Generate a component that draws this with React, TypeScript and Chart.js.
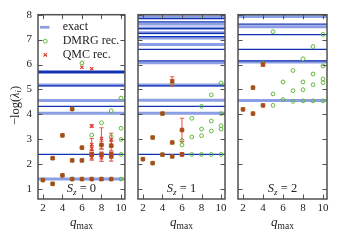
import React, { useEffect, useRef } from 'react';
import { Chart, registerables } from 'chart.js';

Chart.register(...registerables);

const SERIF = '"Liberation Serif", "DejaVu Serif", serif';

// axes
const qTicks = [2, 4, 6, 8, 10];
const yTicks = [1, 2, 3, 4, 5, 6, 7, 8];
const qRange = [1.5, 10.4];
const yRange = [0.6, 8];

// ---- S_z = 0 ----
const exactDark0 = [2.39, 4.32, 5.14, 5.67, 5.73];
const exactLight0 = [1.4, 4.04, 4.55, 5.18];
const dmrg0 = [
  [2, 1.36], [3, 1.21], [3, 2.24], [4, 1.55], [4, 3.155], [5, 1.4], [5, 2.15], [5, 4.21],
  [6, 1.4], [6, 2.15], [6, 2.66], [6, 6.06], [7, 1.4], [7, 2.39], [7, 3.17],
  [8, 1.4], [8, 2.39], [8, 2.77], [8, 3.66], [9, 1.4], [9, 2.39], [9, 2.74], [9, 3.1], [9, 4.14],
  [10, 1.4], [10, 2.39], [10, 2.99], [10, 3.44], [10, 4.65],
];
// q, value, error
const qmc0 = [
  [2, 1.36, 0], [3, 1.21, 0], [3, 2.24, 0], [4, 1.55, 0], [4, 3.155, 0],
  [5, 1.4, 0], [5, 2.15, 0], [5, 4.21, 0], [6, 1.4, 0], [6, 2.15, 0], [6, 2.66, 0], [6, 5.89, 0],
  [7, 1.4, 0], [7, 2.26, 0.1], [7, 2.39, 0.08], [7, 2.63, 0.1], [7, 2.79, 0.24], [7, 3.53, 0.05], [7, 5.83, 0],
  [8, 1.4, 0], [8, 2.26, 0.15], [8, 2.39, 0.1], [8, 2.77, 0.15], [8, 3.03, 0.43],
  [9, 1.4, 0], [9, 2.3, 0.18], [9, 2.39, 0.1], [9, 2.74, 0.2], [9, 2.97, 0.27],
];

// ---- S_z = 1 ----
const exactDark1 = [2.39, 4.32, 5.14, 6.15, 6.61, 7.12, 7.25, 7.44, 7.71, 7.84];
const exactLight1 = [4.04, 4.56, 5.18, 6.07, 6.8, 7.06, 7.28, 7.47, 7.63, 7.92];
const dmrg1 = [
  [2, 2.2], [3, 2.04], [3, 3.07], [4, 2.38], [4, 4.03], [5, 2.31], [5, 2.87], [5, 5.24],
  [6, 2.39], [6, 2.77], [6, 2.95], [6, 3.37], [7, 2.39], [7, 3.09], [7, 3.84],
  [8, 2.39], [8, 3.14], [8, 3.41], [8, 4.32], [9, 2.39], [9, 3.33], [9, 3.73], [9, 4.78],
  [10, 2.39], [10, 3.41], [10, 3.54], [10, 4.03], [10, 5.26],
];
const qmc1 = [
  [2, 2.2, 0], [3, 2.04, 0], [3, 3.07, 0], [4, 2.38, 0], [4, 4.03, 0],
  [5, 2.31, 0], [5, 2.87, 0], [5, 5.33, 0.18], [6, 2.39, 0.07], [6, 3.37, 0.47],
];

// ---- S_z = 2 ----
const exactDark2 = [6.15, 6.61, 7.2, 7.62];
const exactLight2 = [4.55, 6.1, 7.52, 7.93];
const dmrg2 = [
  [2, 4.2], [3, 4.03], [3, 5.07], [4, 4.36], [4, 6.04], [5, 4.36], [5, 4.82], [5, 7.32],
  [6, 4.59], [6, 5.3], [7, 4.52], [7, 4.95], [7, 5.76], [8, 4.54], [8, 4.99], [8, 5.3], [8, 6.23],
  [9, 4.54], [9, 5.19], [9, 5.62], [9, 6.72], [10, 4.54], [10, 5.27], [10, 5.42], [10, 5.94], [10, 7.21],
];
const qmc2 = [[2, 4.2, 0], [3, 4.03, 0], [3, 5.07, 0], [4, 4.36, 0], [4, 6.0, 0.07]];

const panels = [
  { sz: '0', exactDark: exactDark0, exactLight: exactLight0, dmrg: dmrg0, qmc: qmc0 },
  { sz: '1', exactDark: exactDark1, exactLight: exactLight1, dmrg: dmrg1, qmc: qmc1 },
  { sz: '2', exactDark: exactDark2, exactLight: exactLight2, dmrg: dmrg2, qmc: qmc2 },
];

const DARK = '#1232b4';
const LIGHT = '#8d9fe4';
const GREEN = '#63b83a';
const RED = '#d8392b';
const BROWN = '#ac4a1c';
const FRAME = '#505050';
const TEXT = '#222';

function levelData(levels: number[]) {
  const out: any[] = [];
  levels.forEach((v) => {
    out.push({ x: qRange[0], y: v }, { x: qRange[1], y: v }, { x: qRange[1], y: null });
  });
  return out;
}

function drawRich(ctx: CanvasRenderingContext2D, parts: any[], cx: number, cy: number) {
  let total = 0;
  parts.forEach((p) => { ctx.font = p.font; total += ctx.measureText(p.t).width; });
  let x = cx - total / 2;
  parts.forEach((p) => {
    ctx.font = p.font;
    ctx.fillText(p.t, x, cy + (p.dy || 0));
    x += ctx.measureText(p.t).width;
  });
}

function PanelChart({ panel, first, left, width, padL, padR }: any) {
  const ref = useRef<HTMLCanvasElement>(null);
  useEffect(() => {
    const coincide = panel.qmc.map(([q, v]: number[]) =>
      panel.dmrg.some(([dq, dv]: number[]) => dq === q && Math.abs(dv - v) < 0.1));

    const decor = {
      id: 'decor',
      beforeDatasetDraw(chart: any, args: any) {
        const ds = chart.data.datasets[args.index];
        if (ds.label !== 'QMC rec.') return;
        const { ctx, scales: { x, y } } = chart;
        ctx.save();
        ctx.strokeStyle = 'rgba(222,70,52,0.85)';
        ctx.lineWidth = 1.1;
        panel.qmc.forEach(([q, v, e]: number[]) => {
          if (!e) return;
          const px = x.getPixelForValue(q);
          const y1 = y.getPixelForValue(v - e);
          const y2 = y.getPixelForValue(v + e);
          ctx.beginPath();
          ctx.moveTo(px, y1); ctx.lineTo(px, y2);
          ctx.moveTo(px - 2.2, y1); ctx.lineTo(px + 2.2, y1);
          ctx.moveTo(px - 2.2, y2); ctx.lineTo(px + 2.2, y2);
          ctx.stroke();
        });
        ctx.restore();
      },
      afterDraw(chart: any) {
        const { ctx, chartArea: a, scales: { x, y } } = chart;
        ctx.save();
        ctx.strokeStyle = FRAME;
        ctx.lineWidth = 1;
        ctx.beginPath();
        qTicks.forEach((v) => {
          const px = Math.round(x.getPixelForValue(v)) + 0.5;
          ctx.moveTo(px, a.bottom); ctx.lineTo(px, a.bottom - 4.5);
          ctx.moveTo(px, a.top); ctx.lineTo(px, a.top + 4.5);
        });
        yTicks.forEach((v) => {
          const py = Math.round(y.getPixelForValue(v)) + 0.5;
          ctx.moveTo(a.left, py); ctx.lineTo(a.left + 4.5, py);
          ctx.moveTo(a.right, py); ctx.lineTo(a.right - 4.5, py);
        });
        ctx.stroke();
        ctx.lineWidth = 1.5;
        ctx.strokeRect(a.left, a.top, a.right - a.left, a.bottom - a.top);

        ctx.fillStyle = TEXT;
        ctx.textAlign = 'left';
        ctx.textBaseline = 'alphabetic';
        const cx = (a.left + a.right) / 2;
        // S_z label
        drawRich(ctx, [
          { t: 'S', font: `italic 12.5px ${SERIF}` },
          { t: 'z', font: `italic 9px ${SERIF}`, dy: 2.5 },
          { t: ' = ' + panel.sz, font: `12.5px ${SERIF}` },
        ], cx, 192);
        // x title
        drawRich(ctx, [
          { t: 'q', font: `italic 13px ${SERIF}` },
          { t: 'max', font: `9.5px ${SERIF}`, dy: 2.5 },
        ], cx, 226);

        if (first) {
          // y title
          ctx.save();
          ctx.translate(18.5, 105.5);
          ctx.rotate(-Math.PI / 2);
          drawRich(ctx, [
            { t: '\u2212log(', font: `12.5px ${SERIF}` },
            { t: '\u03bb', font: `italic 12.5px ${SERIF}` },
            { t: 'i', font: `italic 8.5px ${SERIF}`, dy: 2.5 },
            { t: ')', font: `12.5px ${SERIF}` },
          ], 0, 0);
          ctx.restore();

          // legend
          const lx = 45.3;
          const tx = 62.7;
          const rows = [27.3, 41.2, 54.8];
          ctx.strokeStyle = LIGHT;
          ctx.lineWidth = 2.8;
          ctx.beginPath(); ctx.moveTo(40, rows[0]); ctx.lineTo(49.5, rows[0]); ctx.stroke();
          ctx.strokeStyle = GREEN;
          ctx.lineWidth = 1;
          ctx.beginPath(); ctx.arc(lx, rows[1], 1.9, 0, Math.PI * 2); ctx.stroke();
          ctx.strokeStyle = RED;
          ctx.lineWidth = 1.1;
          ctx.beginPath();
          ctx.moveTo(lx - 1.7, rows[2] - 1.7); ctx.lineTo(lx + 1.7, rows[2] + 1.7);
          ctx.moveTo(lx - 1.7, rows[2] + 1.7); ctx.lineTo(lx + 1.7, rows[2] - 1.7);
          ctx.stroke();
          ctx.fillStyle = TEXT;
          ctx.font = `12px ${SERIF}`;
          ctx.textBaseline = 'middle';
          ['exact', 'DMRG rec.', 'QMC rec.'].forEach((t, i) => ctx.fillText(t, tx, rows[i]));
        }
        ctx.restore();
      },
    };

    const chart = new Chart(ref.current as HTMLCanvasElement, {
      type: 'line',
      data: {
        datasets: [
          {
            label: 'QMC rec.',
            data: panel.qmc.map(([q, v]: number[]) => ({ x: q, y: v })),
            showLine: false,
            order: 1,
            pointStyle: (c: any) => (coincide[c.dataIndex] ? 'rect' : 'crossRot'),
            pointRadius: (c: any) => (coincide[c.dataIndex] ? 2.6 : 2.3),
            pointBorderWidth: (c: any) => (coincide[c.dataIndex] ? 0.6 : 1.1),
            pointBackgroundColor: (c: any) => (coincide[c.dataIndex] ? BROWN : RED),
            pointBorderColor: (c: any) => (coincide[c.dataIndex] ? BROWN : RED),
          } as any,
          {
            label: 'DMRG rec.',
            data: panel.dmrg.map(([q, v]: number[]) => ({ x: q, y: v })),
            showLine: false,
            order: 2,
            pointStyle: 'circle',
            pointRadius: 1.9,
            pointBorderWidth: 1,
            pointBorderColor: GREEN,
            pointBackgroundColor: 'rgba(0,0,0,0)',
          },
          {
            label: 'exact',
            data: levelData(panel.exactDark),
            order: 3,
            borderColor: DARK,
            borderWidth: 1.3,
            pointRadius: 0,
            spanGaps: false,
            fill: false,
          },
          {
            label: 'exact (degenerate)',
            data: levelData(panel.exactLight),
            order: 4,
            borderColor: LIGHT,
            borderWidth: 3,
            pointRadius: 0,
            spanGaps: false,
            fill: false,
          },
        ],
      },
      options: {
        responsive: false,
        animation: false,
        events: [],
        layout: { padding: { left: padL, right: padR, top: 14.7, bottom: 0 } },
        plugins: { legend: { display: false }, tooltip: { enabled: false } },
        scales: {
          x: {
            type: 'linear',
            min: qRange[0],
            max: qRange[1],
            afterBuildTicks: (s: any) => { s.ticks = qTicks.map((v) => ({ value: v })); },
            afterFit: (s: any) => { s.height = 41; },
            grid: { display: false, drawTicks: false },
            border: { display: false },
            ticks: { font: { family: SERIF, size: 11 }, color: TEXT, padding: 3, maxRotation: 0, autoSkip: false },
          },
          y: {
            type: 'linear',
            min: yRange[0],
            max: yRange[1],
            display: first,
            afterBuildTicks: (s: any) => { s.ticks = yTicks.map((v) => ({ value: v })); },
            afterFit: (s: any) => { s.width = first ? 38 : 0; },
            grid: { display: false, drawTicks: false },
            border: { display: false },
            ticks: { font: { family: SERIF, size: 11 }, color: TEXT, padding: 6, autoSkip: false },
          },
        },
      } as any,
      plugins: [decor],
    });
    return () => chart.destroy();
  }, []);
  return (
    <canvas
      ref={ref}
      width={width}
      height={240}
      style={{ position: 'absolute', left, top: 0, width, height: 240 }}
    />
  );
}

export default function App() {
  return (
    <div style={{ position: 'fixed', left: 0, top: 0, width: 338, height: 240, background: '#fff' }}>
      <PanelChart panel={panels[0]} first={true} left={0} width={130} padL={0} padR={3} />
      <PanelChart panel={panels[1]} first={false} left={130} width={100} padL={8} padR={3} />
      <PanelChart panel={panels[2]} first={false} left={230} width={108} padL={8} padR={11} />
    </div>
  );
}
